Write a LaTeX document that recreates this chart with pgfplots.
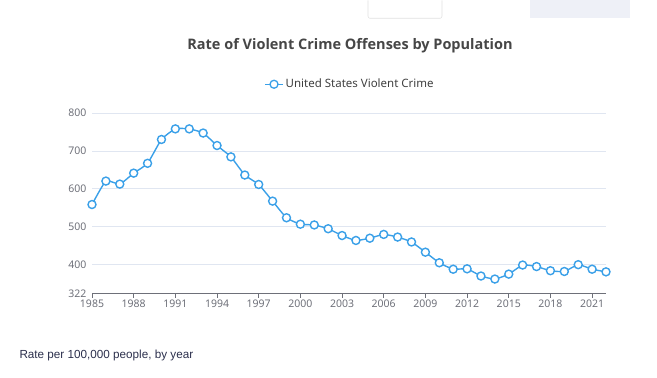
\documentclass[border=0pt]{standalone}
\usepackage{pgfplots}
\pgfplotsset{compat=1.18}
\usepackage{fontspec}
\setmainfont{Noto Sans}
\newfontfamily\titlefont{Open Sans}
\newfontfamily\arialfont{Liberation Sans}
\definecolor{linec}{RGB}{58,160,232}
\definecolor{titlec}{RGB}{70,70,70}
\definecolor{tickc}{RGB}{110,112,121}
\definecolor{gridc}{RGB}{224,230,241}
\definecolor{notec}{RGB}{43,47,76}
\begin{document}
\begin{tikzpicture}
\path (0pt,0pt) rectangle (657pt,377pt);
% UI artifacts at the top
\draw[rounded corners=2pt,color=black!12,line width=0.6pt] (368pt,377pt) -- (368pt,359pt) -- (442pt,359pt) -- (442pt,377pt);
\fill[color={rgb,255:red,238;green,240;blue,247}] (530pt,359pt) rectangle (630pt,377pt);
\node[anchor=center,font=\titlefont\fontsize{14.5}{18}\selectfont\bfseries,text=titlec] at (350pt,332pt) {Rate of Violent Crime Offenses by Population};
\node[anchor=west,font=\arialfont\fontsize{11.7}{14}\selectfont,text=notec] at (16pt,22pt) {Rate per 100,000 people, by year};
\begin{axis}[
  at={(92pt,83.5pt)}, anchor=south west,
  scale only axis, width=514pt, height=180.8pt,
  xmin=1985, xmax=2022, ymin=322, ymax=800,
  xtick={1985,1988,...,2021},
  ytick={322,400,500,600,700,800},
  /pgf/number format/1000 sep={},
  /pgf/number format/assume math mode=true,
  tick label style={font=\fontsize{10.5}{12}\selectfont, text=tickc},
  axis x line*=bottom, axis y line*=left,
  x axis line style={color=tickc, line width=0.6pt, -},
  y axis line style={draw=none},
  xtick style={color=tickc, line width=0.6pt},
  ytick style={draw=none},
  xtick pos=bottom, ytick pos=left, major tick length=4pt,
  tick align=outside,
  ymajorgrids, grid style={color=gridc, line width=0.6pt},
  xticklabel style={yshift=1pt},
  yticklabel style={xshift=2pt},
  clip=false,
  legend style={at={(0.502,1.159)}, anchor=center, draw=none, fill=none,
    font=\fontsize{11.5}{13}\selectfont, text=titlec!90!black},
  legend image code/.code={
    \draw[linec, line width=1.3pt] (0pt,0pt) -- (18pt,0pt);
    \draw[linec, fill=white, line width=1.3pt] (9pt,0pt) circle (4pt);
  },
]
\addplot[color=linec, line width=1.4pt, smooth, tension=0.3, mark=*, mark size=4pt,
  mark options={fill=white, draw=linec, line width=1.4pt}]
coordinates {
(1985,558) (1986,620) (1987,612) (1988,641) (1989,667) (1990,730)
(1991,758) (1992,758) (1993,747) (1994,714) (1995,684) (1996,636)
(1997,611) (1998,567) (1999,523) (2000,506) (2001,504) (2002,494)
(2003,476) (2004,463) (2005,469) (2006,479) (2007,472) (2008,459)
(2009,432) (2010,404) (2011,387) (2012,388) (2013,369) (2014,361)
(2015,374) (2016,398) (2017,394) (2018,383) (2019,381) (2020,399)
(2021,387) (2022,380)
};
\addlegendentry{United States Violent Crime}
\end{axis}
\end{tikzpicture}
\end{document}
